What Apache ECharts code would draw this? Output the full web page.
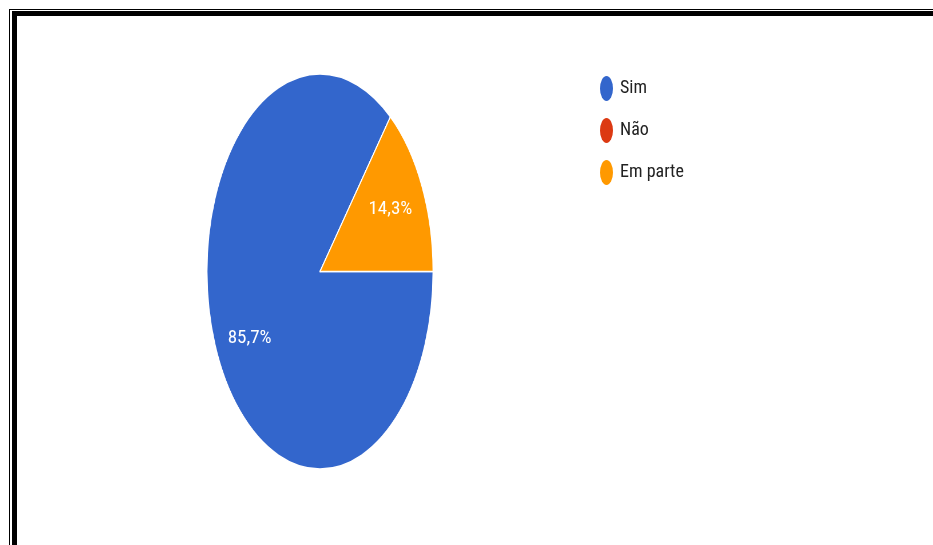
<!DOCTYPE html>
<html>
<head>
<meta charset="utf-8">
<script src="https://cdn.jsdelivr.net/npm/echarts@6/dist/echarts.min.js"></script>
<style>
  html, body { margin: 0; padding: 0; background: #ffffff; }
  #stage { position: relative; width: 933px; height: 545px; overflow: hidden; background: #ffffff; }
  /* The pie is drawn in its own layer, squeezed horizontally into an oval */
  #pieLayer { position: absolute; left: 0; top: 0; width: 933px; height: 545px;
              transform: scaleX(0.572); transform-origin: 320px 0; }
  #topLayer { position: absolute; left: 0; top: 0; width: 933px; height: 545px; }
</style>
</head>
<body>
<div id="stage">
  <div id="pieLayer"></div>
  <div id="topLayer"></div>
</div>
<script>
// Answers and their shares (%)
const categories = ['Sim', 'Não', 'Em parte'];
const values = [85.7, 0, 14.3];
const colors = ['#3366cc', '#dc3912', '#ff9900'];

const FONT = "'Liberation Sans Narrow', 'Arial Narrow', 'Roboto Condensed', 'Liberation Sans', Arial, sans-serif";
const CENTER = [320, 271.5];
const RADIUS_Y = 197.5;          // radius before the horizontal squeeze
const SQUEEZE = 0.572;           // same factor as the CSS transform on #pieLayer
const RADIUS_X = RADIUS_Y * SQUEEZE;
const LABEL_STRETCH = 1.9;       // vertical spread of the labels inside the oval
const LABEL_SHIFT = 2.5;

// Layer 1: the coloured slices
const pieChart = echarts.init(document.getElementById('pieLayer'), null, { renderer: 'canvas' });
pieChart.setOption({
  animation: false,
  backgroundColor: 'transparent',
  series: [{
    type: 'pie',
    center: CENTER,
    radius: RADIUS_Y,
    startAngle: 0,
    clockwise: true,
    silent: true,
    label: { show: false },
    labelLine: { show: false },
    itemStyle: { borderColor: '#ffffff', borderWidth: 1.6 },
    data: categories.map((name, i) => ({ name: name, value: values[i], itemStyle: { color: colors[i] } }))
  }]
});

// Layer 2: frame, legend and the percentage labels (unsqueezed text)
const fmt = v => v.toFixed(1).replace('.', ',') + '%';
const ovalIcon = 'path://M0,50 A50,50 0 1,1 100,50 A50,50 0 1,1 0,50 Z';

const topChart = echarts.init(document.getElementById('topLayer'), null, { renderer: 'canvas' });
topChart.setOption({
  animation: false,
  backgroundColor: 'transparent',
  graphic: [
    { type: 'rect', shape: { x: 9, y: 9, width: 924, height: 1 }, style: { fill: '#000' }, silent: true },
    { type: 'rect', shape: { x: 9, y: 9, width: 1, height: 536 }, style: { fill: '#000' }, silent: true },
    { type: 'rect', shape: { x: 12, y: 11, width: 921, height: 5 }, style: { fill: '#000' }, silent: true },
    { type: 'rect', shape: { x: 12, y: 11, width: 5, height: 534 }, style: { fill: '#000' }, silent: true }
  ],
  legend: {
    orient: 'vertical',
    left: 595,
    top: 71,
    itemWidth: 13,
    itemHeight: 25,
    itemGap: 17,
    icon: ovalIcon,
    symbolKeepAspect: false,
    selectedMode: false,
    textStyle: { fontFamily: FONT, fontSize: 18, color: '#222222', padding: [0, 0, 0, 2] },
    data: categories.map((name, i) => ({ name: name, itemStyle: { color: colors[i], opacity: 1 } }))
  },
  series: [{
    type: 'pie',
    center: CENTER,
    radius: [RADIUS_X * 0.33, RADIUS_X],
    startAngle: 0,
    clockwise: true,
    silent: true,
    labelLine: { show: false },
    label: {
      show: true,
      position: 'inside',
      fontFamily: FONT,
      fontSize: 19,
      color: '#ffffff',
      opacity: 1,
      formatter: p => (p.value > 0 ? fmt(p.value) : '')
    },
    // spread label positions vertically so they follow the oval slices
    labelLayout: function (params) {
      const r = params.labelRect;
      const cy = r.y + r.height / 2;
      return { y: CENTER[1] + (cy - CENTER[1]) * LABEL_STRETCH + LABEL_SHIFT };
    },
    // invisible slices: only their labels are shown on this layer
    data: categories.map((name, i) => ({ name: name, value: values[i], itemStyle: { color: 'rgba(0,0,0,0)' } }))
  }]
});
</script>
</body>
</html>
